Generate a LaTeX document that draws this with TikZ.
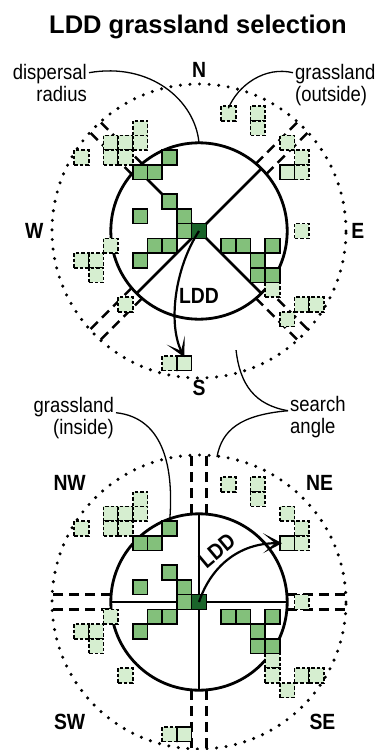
\documentclass[tikz,border=0pt]{standalone}
\usepackage{fontspec}
\setmainfont{Liberation Sans}
\newfontfamily\labfont[FakeStretch=0.88]{Liberation Sans}
\newfontfamily\ttlfont[FakeStretch=1.0]{Liberation Sans}
\usetikzlibrary{arrows.meta}

\definecolor{grnmid}{RGB}{131,192,123}
\definecolor{grnpale}{RGB}{214,238,208}
\definecolor{grndeep}{RGB}{26,100,42}

\tikzset{
  rim/.style={line width=2.8pt},
  radial/.style={line width=2.6pt},
  outerdots/.style={line width=3.4pt, line cap=round, dash pattern=on 0pt off 9.6pt},
  corridor/.style={line width=2.6pt, dash pattern=on 10pt off 6pt},
  palecell/.style={fill=grnpale, draw=black, line width=1.6pt, dash pattern=on 3.5pt off 2pt},
  hitcell/.style={fill=grnpale, draw=black, line width=1.6pt, minimum size=14.7pt, inner sep=0pt, shape=rectangle},
  habcell/.style={fill=grnmid, draw=black, line width=1.6pt},
  seedcell/.style={fill=grndeep, draw=black, line width=1.6pt, minimum size=14.7pt, inner sep=0pt, shape=rectangle},
  callout/.style={line width=1.3pt},
  ldd/.style={line width=2.2pt, -{Stealth[length=19pt,width=20pt,inset=12pt]}},
  lbl/.style={font=\labfont\fontsize{21}{22}\selectfont, inner sep=0pt},
  dir/.style={font=\labfont\bfseries\fontsize{22}{23}\selectfont, inner sep=0pt, anchor=base},
}

% grassland cells shared by both panels (grid units, seed cell at 0/0)
\newcommand\grasscells{%
  \foreach \i/\j in {-4/7,-6/6,-5/6,-4/6,-6/5,-5/5,-8/5,2/8,4/8,4/7,6/6,7/5,7/4,7/0,
                     -6/-1,-8/-2,-7/-2,-7/-3,-5/-5,5/-4,7/-5,8/-5,6/-6,-2/-9}
    \path[palecell] (\i-0.5,\j-0.5) rectangle ++(1,1);
  \foreach \i/\j in {-2/5,-4/4,-3/4,-2/2,-4/1,-1/1,-1/0,-3/-1,-2/-1,-4/-2,
                     2/-1,3/-1,5/-1,4/-2,4/-3,5/-3}
    \path[habcell] (\i-0.5,\j-0.5) rectangle ++(1,1);
}

\begin{document}
\begin{tikzpicture}[x=1pt,y=-1pt]
\fill[white] (0,0) rectangle (390,750);
\path[use as bounding box] (0,0) rectangle (390,750);

\node[font=\ttlfont\bfseries\fontsize{25.5}{28}\selectfont, anchor=base, inner sep=0pt]
  (title) at (198,33) {LDD grassland selection};

% ---------- upper panel: diagonal search sectors ----------
\begin{scope}[shift={(199,231)}, x=14.7pt, y=14.7pt]
  \draw[outerdots] (0,0) circle (10);
  \draw[rim] (0,0) circle (6);
  \foreach \a in {45,135,225,315} {
    \draw[radial] (0,0) -- (\a:6);
    \draw[corridor, rotate=\a] (5.979,0.5) -- (9.987,0.5) (5.979,-0.5) -- (9.987,-0.5);
  }
  \grasscells
  \node[hitcell] (tgtA2) at (6,4) {};
  \node[hitcell] (tgtA) at (-1,-9) {};
  \node[seedcell] (seedA) at (0,0) {};
  \coordinate (rimA) at (90:6);
  \coordinate (outcellA) at (2,8.35);
  \coordinate (angA) at (2.52,-8.1);
  \draw[ldd] (seedA.center) .. controls (-1.7,-2.6) and (-2.1,-6.4) .. ([yshift=-2pt]tgtA.north);
  \node[dir] (lddA) at (0,-4.95) {LDD};
  \node[dir] (nN) at (0,10.45) {N};
  \node[dir] (nS) at (0,-11.2) {S};
  \node[dir] (nW) at (-11.2,-0.5) {W};
  \node[dir] (nE) at (10.8,-0.5) {E};
\end{scope}

% ---------- lower panel: quadrant search sectors ----------
\begin{scope}[shift={(199,602)}, x=14.7pt, y=14.7pt]
  \draw[outerdots] (0,0) circle (10);
  \draw[rim] (0,0) circle (6);
  \foreach \a in {0,90,180,270} {
    \draw[radial] (0,0) -- (\a:6);
    \draw[corridor, rotate=\a] (5.979,0.5) -- (9.987,0.5) (5.979,-0.5) -- (9.987,-0.5);
  }
  \grasscells
  \path[palecell] (4.5,-5.5) rectangle ++(1,1);
  \node[hitcell] (tgtB) at (6,4) {};
  \node[hitcell] (tgtB2) at (-1,-9) {};
  \node[seedcell] (seedB) at (0,0) {};
  \coordinate (incellB) at (-2,5.45);
  \coordinate (angB) at (1.22,9.86);
  \draw[ldd] (seedB.center) .. controls (0.8,2.4) and (2.7,4.0) .. ([xshift=3pt]tgtB.west);
  \node[dir, rotate=40] (lddB) at (1.55,3.1) {LDD};
  \node[dir] (nNW) at (-8.8,7.6) {NW};
  \node[dir] (nNE) at (8.2,7.6) {NE};
  \node[dir] (nSW) at (-8.8,-8.7) {SW};
  \node[dir] (nSE) at (8.4,-8.7) {SE};
\end{scope}

% ---------- callout labels ----------
\node[lbl, align=right, anchor=north east] (dispL) at (87,63.7) {dispersal\\radius};
\node[lbl, align=left, anchor=north west] (outL) at (295,63.7) {grassland\\(outside)};
\node[lbl, align=right, anchor=north east] (inL) at (114,396.7) {grassland\\(inside)};
\node[lbl, align=left, anchor=north west] (angL) at (290,395.7) {search\\angle};

\draw[callout] ([shift={(2,9)}]dispL.north east) .. controls (150,62) and (195,100) .. (rimA);
\draw[callout] ([shift={(-2,9)}]outL.north west) .. controls (265,66) and (238,85) .. (outcellA);
\draw[callout] ([shift={(2,16)}]inL.north east) .. controls (165,418) and (174,470) .. (incellB);
\draw[callout] ([shift={(-2,15)}]angL.north west) .. controls (255,405) and (240,385) .. (angA);
\draw[callout] ([shift={(-2,15)}]angL.north west) .. controls (240,415) and (222,430) .. (angB);
\end{tikzpicture}
\end{document}
